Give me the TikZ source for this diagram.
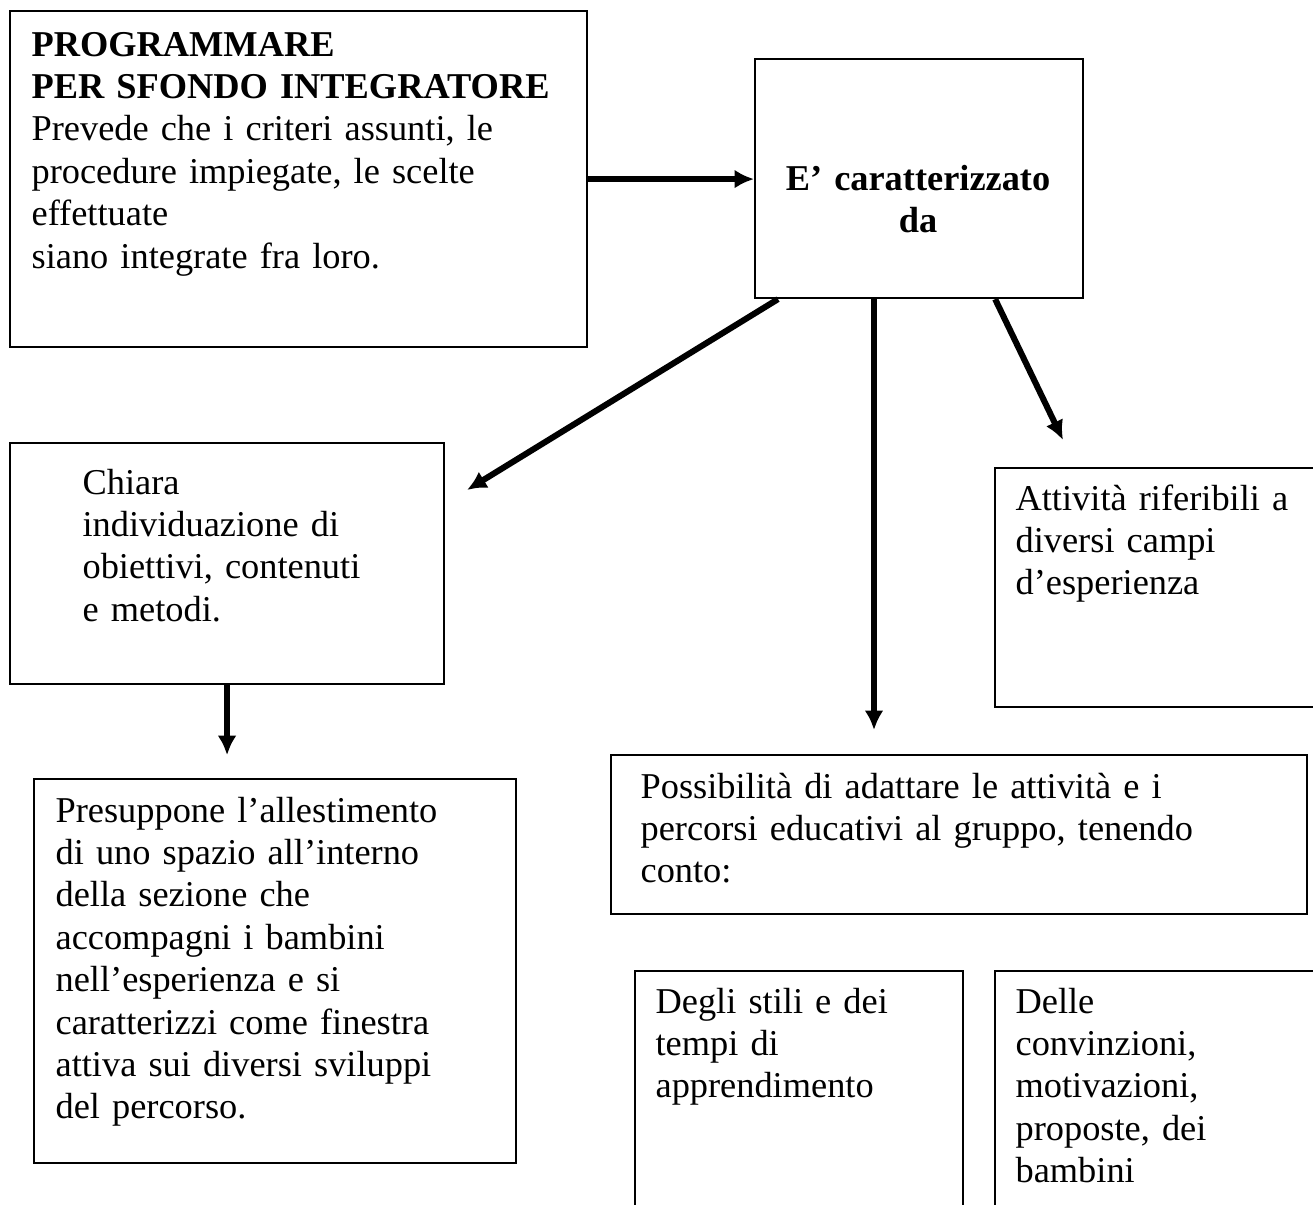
\documentclass[tikz,border=0pt]{standalone}
\usepackage{fontspec}
\setmainfont{Liberation Serif}
\usetikzlibrary{calc,arrows.meta}
\newcommand{\pxu}{0.33pt}
\begin{document}
\begin{tikzpicture}[x=\pxu, y=-\pxu, >={Latex[length=6.4pt,width=6.2pt]},
    font=\fontsize{12}{14}\selectfont,
    box/.style={draw, line width=0.7pt, anchor=north west, inner sep=0pt},
    txt/.style={anchor=base west, align=left, inner sep=0pt, text width=9cm},
    arr/.style={->, line width=2pt}]
    \useasboundingbox (0,0) rectangle (1313,1204);

    % 1. Riquadri
    \node[box, minimum width=577*\pxu, minimum height=336*\pxu] (A) at (9,10) {};
    \node[box, minimum width=328*\pxu, minimum height=239*\pxu] (B) at (754,58) {};
    \node[box, minimum width=434*\pxu, minimum height=241*\pxu] (C) at (9,442) {};
    \node[box, minimum width=482*\pxu, minimum height=384*\pxu] (D) at (33,778) {};
    \node[box, minimum width=340*\pxu, minimum height=239*\pxu] (E) at (994,467) {};
    \node[box, minimum width=696*\pxu, minimum height=159*\pxu] (P) at (610,754) {};
    \node[box, minimum width=328*\pxu, minimum height=260*\pxu] (F) at (634,970) {};
    \node[box, minimum width=340*\pxu, minimum height=260*\pxu] (G) at (994,970) {};

    % 2. Testi
    \node[txt] (tA) at (31,56) {\textbf{PROGRAMMARE}\\ \textbf{PER SFONDO INTEGRATORE}\\
        Prevede che i criteri assunti, le\\ procedure impiegate, le scelte\\ effettuate\\
        siano integrate fra loro.};
    \node[anchor=base, align=center, inner sep=0pt, text width=4cm] (tB) at (918,190)
        {\textbf{E’ caratterizzato}\\ \textbf{da}};
    \node[txt] (tC) at (82,494) {Chiara\\ individuazione di\\ obiettivi, contenuti\\ e metodi.};
    \node[txt] (tD) at (55,822) {Presuppone l’allestimento\\ di uno spazio all’interno\\
        della sezione che\\ accompagni i bambini\\ nell’esperienza e si\\
        caratterizzi come finestra\\ attiva sui diversi sviluppi\\ del percorso.};
    \node[txt] (tE) at (1015,510) {Attività riferibili a\\ diversi campi\\ d’esperienza};
    \node[txt] (tP) at (640,798) {Possibilità di adattare le attività e i\\
        percorsi educativi al gruppo, tenendo\\ conto:};
    \node[txt] (tF) at (655,1013) {Degli stili e dei\\ tempi di\\ apprendimento};
    \node[txt] (tG) at (1015,1013) {Delle\\ convinzioni,\\ motivazioni,\\ proposte, dei\\ bambini};

    % 3. Frecce
    \coordinate (tipC) at (467,490);
    \coordinate (tipP) at (874,730);
    \coordinate (tipE) at (1063,440);
    \coordinate (tipD) at ($(C.south)+(0,70)$);
    \draw[arr] (A.east) -- (A.east -| B.west);
    \draw[arr] ($(B.south west)+(24,0)$) -- (tipC);
    \draw[arr] (B.south -| tipP) -- (tipP);
    \draw[arr] ($(B.south east)+(-89,0)$) -- (tipE);
    \draw[arr] (C.south) -- (tipD);
\end{tikzpicture}
\end{document}
